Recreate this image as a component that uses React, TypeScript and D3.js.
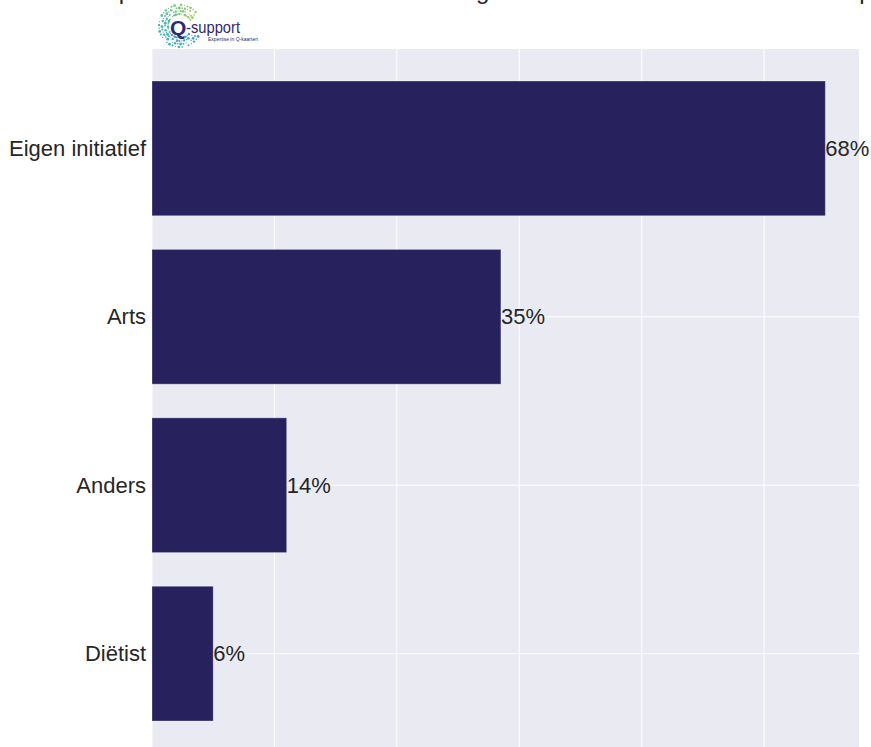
import React from "react";
import * as d3 from "d3";

const categories = ["Eigen initiatief", "Arts", "Anders", "Diëtist"];
const counts = [55, 28.5, 11, 5];
const total = 81;
const gridTicks = [0, 10, 20, 30, 40, 50];

const W = 871;
const H = 747;
const FONT = "'Liberation Sans', Arial, sans-serif";

function Logo() {
  // decorative dotted ring of the Q-support logo
  const dots: { x: number; y: number; r: number; c: string }[] = [];
  const cx = 180, cy = 26;
  const color = d3.scaleLinear<string>().domain([0, 0.5, 1]).range(["#2b8fd0", "#27a9a4", "#8cc63f"]);
  let k = 0;
  for (let a = -60; a <= 235; a += 9) {
    for (let ring = 0; ring < 4; ring++) {
      k++;
      if ((k * 5) % 7 === 0) continue;
      const rad = ((a + ring * 4) * Math.PI) / 180;
      const R = 12 + ring * 3;
      const t = (a + 60) / 295;
      dots.push({
        x: cx - Math.sin(rad) * R,
        y: cy - Math.cos(rad) * R,
        r: 0.6 + ((k * 7) % 5) * 0.2,
        c: color(1 - t),
      });
    }
  }
  return (
    <g>
      {dots.map((d, i) => (
        <circle key={i} cx={d.x} cy={d.y} r={d.r} fill={d.c} opacity={0.85} />
      ))}
      <text x={170} y={35} fontFamily={FONT} fontSize={21} fill="#2e2a6b" fontWeight="bold">
        Q
      </text>
      <text x={186} y={33} fontFamily={FONT} fontSize={17} fill="#2e2a6b" textLength={54} lengthAdjust="spacingAndGlyphs">
        -support
      </text>
      <text x={208} y={41} fontFamily={FONT} fontSize={4.5} fill="#2e2a6b" textLength={50} lengthAdjust="spacingAndGlyphs">
        Expertise in Q-kaarten
      </text>
    </g>
  );
}

export default function App() {
  const x = d3.scaleLinear().domain([0, d3.max(counts)! * 1.05]).range([152, 859]);
  const y = d3.scaleLinear().domain([-0.59, categories.length - 1 + 0.59]).range([49, 753]);
  const barH = y(0.4) - y(-0.4);

  return (
    <svg
      width={W}
      height={H}
      style={{ position: "absolute", left: 0, top: 0, background: "#ffffff" }}
    >
      <text y={-1} fontFamily={FONT} fontSize={24} fill="#262626">
        <tspan x={100}>Op wiens initiatief bent u naar</tspan>
        <tspan x={476}>gekomen?</tspan>
        <tspan x={846}>op</tspan>
      </text>
      <Logo />
      <rect x={x(0)} y={y.range()[0]} width={x.range()[1] - x(0)} height={y.range()[1] - y.range()[0]} fill="#eaeaf2" />
      {gridTicks.map((t) => (
        <line key={t} x1={x(t)} x2={x(t)} y1={y.range()[0]} y2={y.range()[1]} stroke="#ffffff" strokeWidth={1} />
      ))}
      {categories.map((c, i) => (
        <line key={c} x1={x(0)} x2={x.range()[1]} y1={y(i)} y2={y(i)} stroke="#ffffff" strokeWidth={1} />
      ))}
      {categories.map((c, i) => (
        <rect
          key={c}
          x={x(0)}
          y={y(i) - barH / 2}
          width={x(counts[i]) - x(0)}
          height={barH}
          fill="#27225d"
          stroke="#ffffff"
          strokeOpacity={0.3}
          strokeWidth={1}
        />
      ))}
      {categories.map((c, i) => (
        <text
          key={c}
          x={x(0) - 6}
          y={y(i)}
          textAnchor="end"
          dominantBaseline="central"
          fontFamily={FONT}
          fontSize={22}
          fill="#262626"
        >
          {c}
        </text>
      ))}
      {categories.map((c, i) => (
        <text
          key={c}
          x={x(counts[i])}
          y={y(i)}
          dominantBaseline="central"
          fontFamily={FONT}
          fontSize={22}
          fill="#262626"
        >
          {Math.round((counts[i] / total) * 100) + "%"}
        </text>
      ))}
    </svg>
  );
}
